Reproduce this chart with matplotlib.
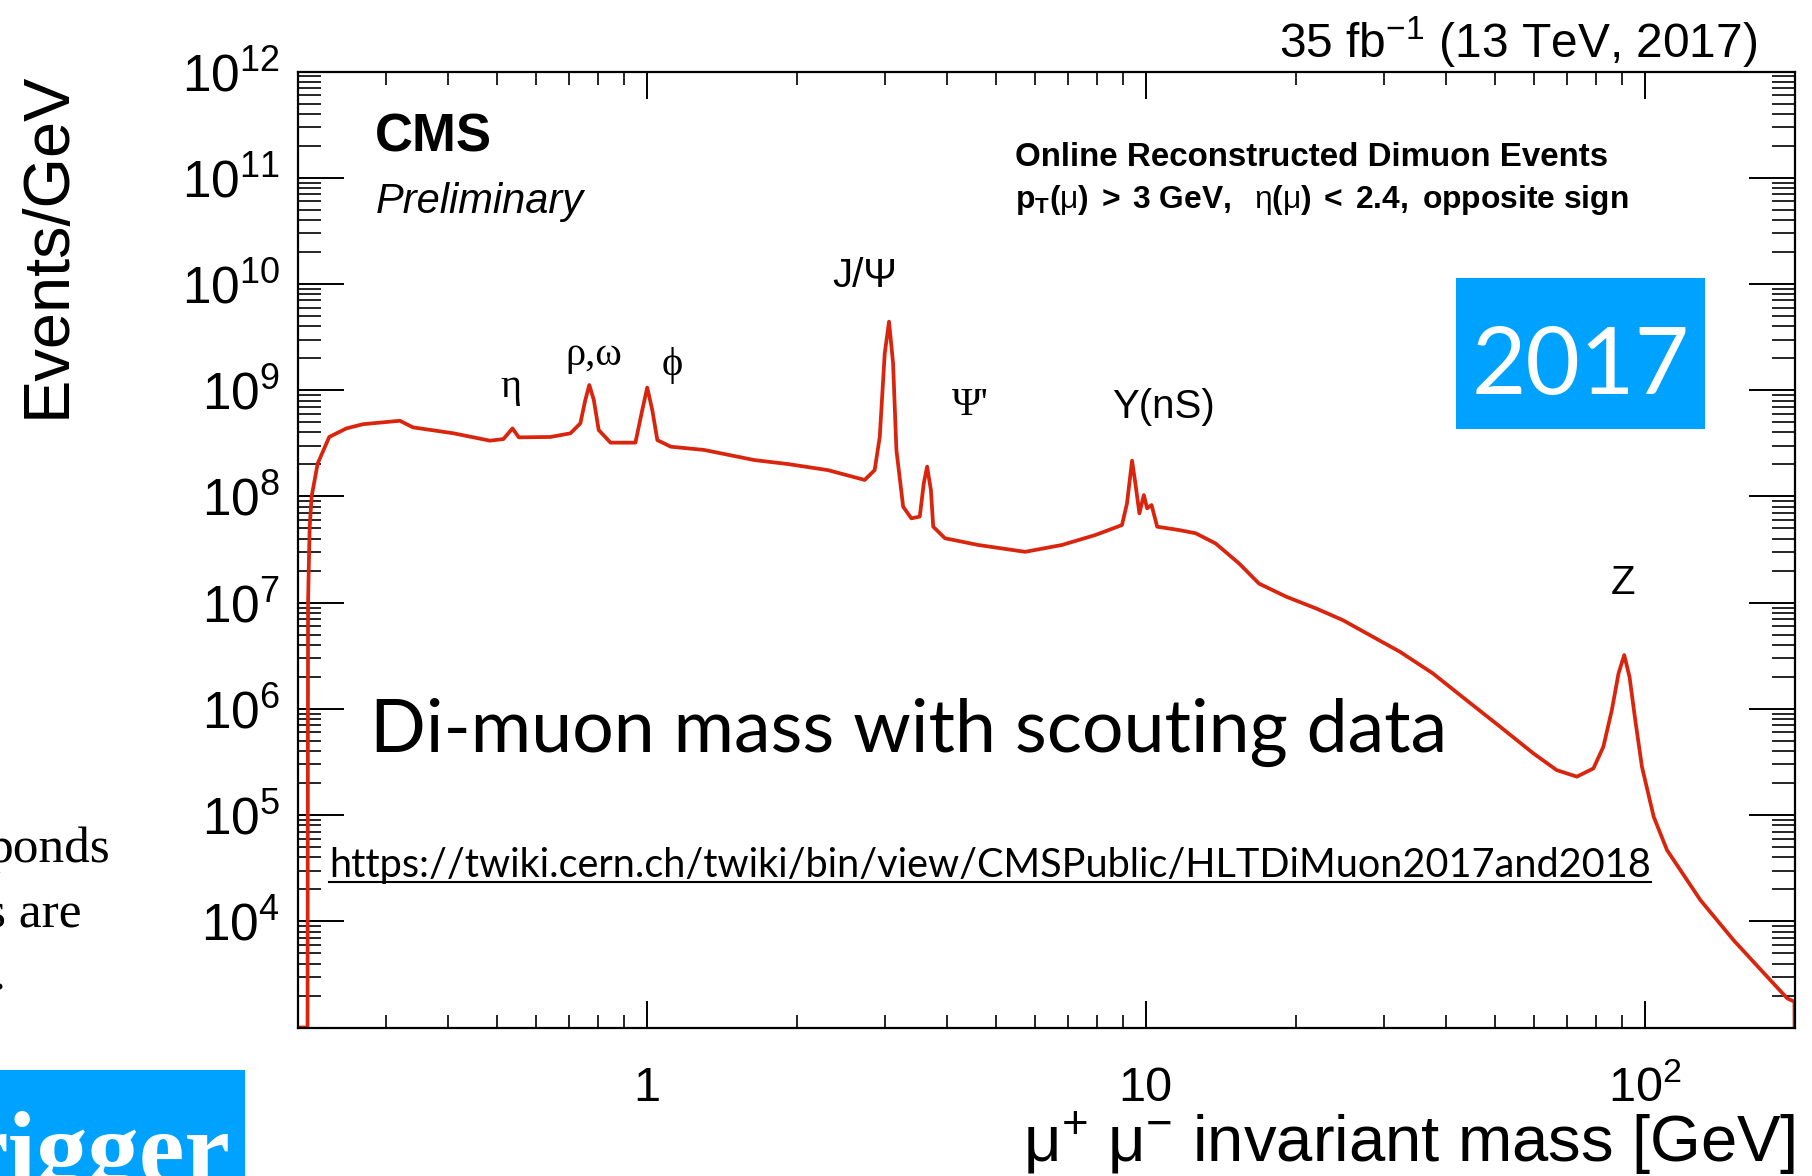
import numpy as np
import matplotlib
matplotlib.use('Agg')
import matplotlib.pyplot as plt
from matplotlib.patches import Rectangle
from matplotlib.lines import Line2D
from matplotlib.ticker import LogLocator, NullFormatter

W, H = 1812, 1176

plt.rcParams['font.family'] = ['Liberation Sans', 'DejaVu Sans']
plt.rcParams['mathtext.fontset'] = 'custom'
plt.rcParams['mathtext.rm'] = 'Liberation Sans'
plt.rcParams['mathtext.it'] = 'Liberation Sans:italic'
plt.rcParams['mathtext.bf'] = 'Liberation Sans:bold'
plt.rcParams['mathtext.default'] = 'regular'

# dimuon mass spectrum (GeV, events/GeV)
mass = [0.200, 0.209, 0.2095, 0.211, 0.213, 0.219, 0.231, 0.250, 0.270, 0.320,
        0.340, 0.410, 0.485, 0.516, 0.538, 0.554, 0.641, 0.703, 0.736, 0.753,
        0.767, 0.783, 0.801, 0.846, 0.949, 0.979, 1.002, 1.026, 1.050, 1.117,
        1.303, 1.643, 1.916, 2.306, 2.733, 2.862, 2.930, 2.998, 3.058, 3.116,
        3.164, 3.264, 3.390, 3.524, 3.590, 3.646, 3.710, 3.750, 3.958, 4.617,
        5.730, 6.790, 7.920, 8.960, 9.170, 9.386, 9.530, 9.710, 9.910, 10.06,
        10.27, 10.54, 11.65, 12.59, 13.80, 15.38, 16.87, 19.10, 21.93, 24.80,
        32.30, 37.60, 43.90, 51.30, 59.80, 66.60, 73.10, 78.90, 82.60, 85.90,
        88.60, 90.95, 93.20, 95.70, 98.70, 104.2, 110.8, 129.3, 150.8, 176.0,
        193.0, 199.5, 199.6]
events = [1.0e3, 1.0e3, 1.0e7, 5.0e7, 1.0e8, 2.04e8, 3.63e8, 4.37e8, 4.79e8, 5.16e8,
          4.47e8, 3.93e8, 3.35e8, 3.47e8, 4.37e8, 3.60e8, 3.63e8, 3.93e8, 4.88e8, 8.09e8,
          1.12e9, 8.13e8, 4.22e8, 3.21e8, 3.21e8, 6.46e8, 1.06e9, 6.46e8, 3.39e8, 2.94e8,
          2.74e8, 2.20e8, 2.02e8, 1.77e8, 1.43e8, 1.77e8, 3.63e8, 2.22e9, 4.42e9, 1.79e9,
          2.74e8, 8.0e7, 6.22e7, 6.46e7, 1.33e8, 1.91e8, 1.15e8, 5.19e7, 4.04e7, 3.49e7,
          3.01e7, 3.49e7, 4.33e7, 5.38e7, 8.61e7, 2.17e8, 1.33e8, 6.93e7, 1.03e8, 7.73e7,
          8.30e7, 5.19e7, 4.83e7, 4.50e7, 3.61e7, 2.34e7, 1.51e7, 1.14e7, 8.83e6, 6.86e6,
          3.45e6, 2.16e6, 1.21e6, 6.79e5, 3.81e5, 2.65e5, 2.30e5, 2.75e5, 4.40e5, 9.75e5,
          2.16e6, 3.21e6, 2.00e6, 7.85e5, 2.85e5, 9.64e4, 4.68e4, 1.58e4, 6.60e3, 3.00e3,
          1.88e3, 1.75e3, 1.0e3]

x_ticks = [1, 10, 100]
x_tick_labels = ['1', '10', r'$10^{2}$']
y_exponents = [4, 5, 6, 7, 8, 9, 10, 11, 12]

peak_names = ['\u03b7', '\u03c1,\u03c9', '\u03d5', 'J/\u03a8', '\u03a8\'', '\u03a5(nS)', 'Z']

fig = plt.figure(figsize=(W / 100, H / 100), dpi=100)
ax = fig.add_axes([298 / W, 1 - 1027.5 / H, (1795 - 298) / W, (1027.5 - 71.6) / H])

ax.plot(mass, events, color='#d9250d', lw=2.7)
ax.set_xscale('log')
ax.set_yscale('log')
ax.set_xlim(0.2, 200)
ax.set_ylim(1e3, 1e12)

ax.set_xticks(x_ticks, x_tick_labels, va='baseline')
ax.xaxis.set_minor_locator(LogLocator(base=10, subs=np.arange(2, 10), numticks=50))
ax.xaxis.set_minor_formatter(NullFormatter())
ax.set_yticks([10.0 ** e for e in y_exponents], [rf'$10^{{{e}}}$' for e in y_exponents])
ax.yaxis.set_minor_locator(LogLocator(base=10, subs=np.arange(2, 10), numticks=50))
ax.yaxis.set_minor_formatter(NullFormatter())

ax.tick_params(which='both', direction='in', top=True, right=True, color='black')
ax.tick_params(axis='y', which='major', length=33, width=1.4, pad=13, labelsize=37)
ax.tick_params(axis='y', which='minor', length=16.5, width=1.2)
ax.tick_params(axis='x', which='major', length=19.5, width=1.4, pad=53, labelsize=35)
ax.tick_params(axis='x', which='minor', length=9.5, width=1.2)
for s in ax.spines.values():
    s.set_linewidth(1.6)


def put(x, y, s, **kw):
    return fig.text(x / W, 1 - y / H, s, **kw)


renderer = fig.canvas.get_renderer()


def fit(t, width_px, vertical=False):
    bb = t.get_window_extent(renderer)
    cur = bb.height if vertical else bb.width
    t.set_fontsize(t.get_fontsize() * width_px / cur)


# ROOT style labels
t = put(48, 245, 'Events/GeV', rotation=90, ha='center', va='center', fontsize=46)
fit(t, 346, vertical=True)
t = put(1795, 1163, r'$\mu^{+}$ $\mu^{-}$ invariant mass [GeV]', ha='right', va='baseline', fontsize=46)
fit(t, 772)
t = put(1757, 58, r'35 fb$^{-1}$ (13 TeV, 2017)', ha='right', va='baseline', fontsize=35)
fit(t, 478)
put(375, 152, 'CMS', fontweight='bold', fontsize=38, va='baseline')
put(376, 213, 'Preliminary', style='italic', fontsize=30, va='baseline')
t = put(1015, 166, 'Online Reconstructed Dimuon Events', fontweight='bold', fontsize=24, va='baseline')
fit(t, 597)
t = put(1015, 208,
        r'$\mathbf{p_{T}(}\mu\mathbf{)\;>\;3\ GeV,\ \ }\eta\mathbf{(}\mu\mathbf{)\;<\;2.4,\ opposite\ sign}$',
        fontsize=24, va='baseline')
fit(t, 615)

# resonance labels
peak_pos = [(511, 388), (594, 355), (672, 365), (865, 276), (970, 405), (1164, 407), (1623, 583)]
peak_serif = [True, True, True, False, True, False, False]
for name, (px, py), serif in zip(peak_names, peak_pos, peak_serif):
    fam = ['Liberation Serif', 'DejaVu Serif'] if serif else ['Liberation Sans', 'DejaVu Sans']
    put(px, py, name, ha='center', va='center', fontsize=29, family=fam)

# slide overlays
fig.patches.append(Rectangle((1456 / W, 1 - 429 / H), 249 / W, 151 / H, transform=fig.transFigure,
                             facecolor='#00a2ff', edgecolor='none', zorder=2))
t = put(1581, 394, '2017', ha='center', va='baseline', color='white', fontsize=72,
        family=['Lato', 'DejaVu Sans'], zorder=3)
fit(t, 218)
t = put(370, 752, 'Di-muon mass with scouting data', va='baseline', fontsize=54,
        family=['Lato', 'DejaVu Sans'])
fit(t, 1077)
url = put(329, 877, 'https://twiki.cern.ch/twiki/bin/view/CMSPublic/HLTDiMuon2017and2018', va='baseline',
          fontsize=28, family=['Lato', 'DejaVu Sans'])
fit(url, 1324)
bb = url.get_window_extent(renderer)
fig.lines.append(Line2D([bb.x0 / W, bb.x1 / W], [1 - 882 / H, 1 - 882 / H], transform=fig.transFigure,
                        color='black', lw=1.5))

serif = ['Liberation Serif', 'DejaVu Serif']
put(110, 862, 'ponds', ha='right', va='baseline', fontsize=37, family=serif)
put(82, 927, 's are', ha='right', va='baseline', fontsize=37, family=serif)
put(5, 990, '.', ha='right', va='baseline', fontsize=37, family=serif)
fig.patches.append(Rectangle((0, 0), 245 / W, (H - 1070) / H, transform=fig.transFigure,
                             facecolor='#00a2ff', edgecolor='none', zorder=2))
put(230, 1183, 'rigger', ha='right', va='baseline', color='white', fontsize=74, fontweight='bold',
    family=serif, zorder=3)

fig.savefig('out.png', dpi=100)
